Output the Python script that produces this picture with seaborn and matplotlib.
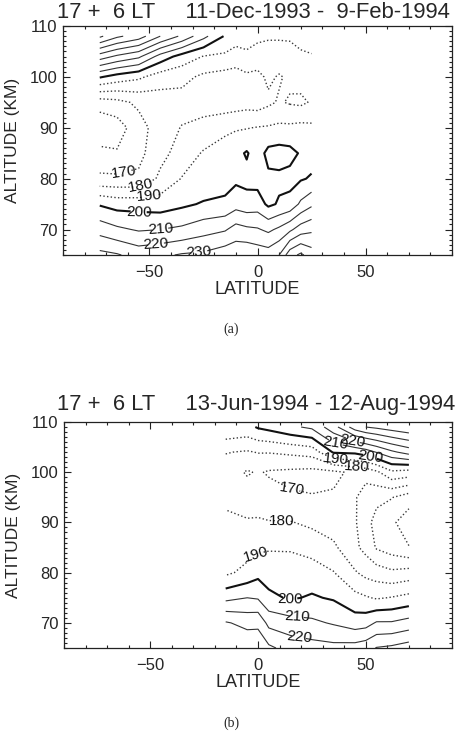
"""
Zonal mean temperature contours (K) against latitude and altitude
for two 17 + 6 LT observation windows.
"""

import matplotlib
matplotlib.use("Agg")
import matplotlib.pyplot as plt
from matplotlib.ticker import MultipleLocator
import seaborn as sns

sns.set_theme(style="ticks")
plt.rcParams["font.family"] = ["Liberation Sans", "DejaVu Sans"]

# panel (a): 11-Dec-1993 - 9-Feb-1994
lat_a = [-73, -65, -55, -45, -35, -25, -15, -10, -5, 0, 5, 10, 15, 20, 25]
alt_a = [65, 70, 75, 80, 85, 90, 95, 100, 104, 108]
# temperature (K), one row per altitude, one column per latitude
temp_a = [
    [233, 231, 226, 228, 231, 232, 236, 237, 238, 236, 235, 240, 256, 262, 255],
    [216, 212, 209, 210, 212, 216, 219, 224, 222, 221, 218, 222, 228, 235, 238],
    [199, 196, 196, 195, 198, 201, 202, 206, 204, 205, 198, 201, 203, 212, 218],
    [172, 172, 172, 182, 190.5, 193, 196, 198, 197, 196, 198, 198, 197, 199, 201],
    [163, 161, 167, 177, 184, 191, 194, 197, 201, 195, 203, 204, 203, 199, 196],
    [152, 155, 166, 175, 180.5, 183, 188, 189, 189.5, 190.5, 191, 192, 192, 193, 192],
    [165, 167, 172, 175, 176, 176, 174, 175, 176, 175, 178, 181, 179, 178, 181],
    [201, 196, 192, 185, 183, 178, 176, 175, 178, 177, 182, 179, 182, 184, 186],
    [235, 228, 222, 206, 196, 189.5, 188, 186, 188, 186, 188, 186, 187, 189, 189.5],
    [272, 262, 255, 240, 228, 213, 199, 194, 194, 192, 190.5, 191, 191, 192, 193],
]

# panel (b): 13-Jun-1994 - 12-Aug-1994
lat_b = [-15, -5, 0, 5, 15, 25, 35, 45, 50, 55, 62, 70]
alt_b = [65, 70, 75, 80, 85, 90, 95, 100, 104, 109]
temp_b = [
    [237, 238, 236, 232, 226, 224, 223, 224, 226, 230.5, 232, 235],
    [231, 227, 228, 217, 214, 212, 209, 205, 206, 211, 211, 214],
    [207, 210, 209, 202, 199, 201, 199, 193, 191, 189, 190.5, 193],
    [188, 193, 197, 196, 195, 195, 190.5, 181, 177, 175, 172, 174],
    [185, 186, 188, 189, 189, 186, 182, 172, 167, 159, 155, 150.5],
    [182, 181, 181, 180.5, 180.5, 178, 175, 171, 164, 156, 152, 144],
    [178, 175, 176, 174, 171, 170.5, 171, 171, 165, 163, 160.5, 155],
    [175, 169, 171, 169, 168, 167, 168, 172, 174, 178, 188, 186],
    [180.5, 179, 180.5, 180.5, 182, 184, 201, 202, 205, 210.5, 218, 224],
    [199, 197, 201, 203, 208, 212, 226, 245, 250, 252, 255, 258],
]

titles = ["17 +  6 LT     11-Dec-1993 -  9-Feb-1994",
          "17 +  6 LT     13-Jun-1994 - 12-Aug-1994"]
captions = ["(a)", "(b)"]

cold_levels = [140, 150, 160, 170, 180, 190]
warm_levels = [210, 220, 230, 240, 250, 260, 270, 280]

# label spots (lat, alt) for the inline contour labels
labels_a = {
    "cold": [(-62, 81.0), (-54, 79.0), (-50, 76.4)],
    "mid": [(-55, 72.8)],
    "warm": [(-45, 70.0), (-47, 67.2), (-27, 65.8)],
}
labels_b = {
    "cold": [(-1, 83.5), (11, 90.0), (16, 96.5), (36, 102.8), (46, 101.3)],
    "mid": [(15, 74.5), (52, 103.2)],
    "warm": [(18, 71.2), (19, 67.2), (36, 105.4), (44, 106.2)],
}


def draw_panel(ax, lat, alt, temp, spots):
    """ Draws dotted contours below 200 K, a thick 200 K contour and
    thin solid contours above it, then adds the inline labels.
    """
    cold = ax.contour(lat, alt, temp, levels=cold_levels, colors="#3a3a3a",
                      linestyles=":", linewidths=1.0)
    mid = ax.contour(lat, alt, temp, levels=[200], colors="#111111",
                     linestyles="-", linewidths=1.5)
    warm = ax.contour(lat, alt, temp, levels=warm_levels, colors="#333333",
                      linestyles="-", linewidths=0.8)
    for cs, key in [(cold, "cold"), (mid, "mid"), (warm, "warm")]:
        ax.clabel(cs, fmt="%d", fontsize=11, colors="#111111", inline=True,
                  inline_spacing=2, manual=spots[key])


def axis_setup(ax):
    """ Sets limits, ticks and labels shared by both panels. """
    ax.set_xlim(-90, 90)
    ax.set_ylim(65, 110)
    ax.set_xticks([-50, 0, 50])
    ax.set_yticks([70, 80, 90, 100, 110])
    ax.xaxis.set_minor_locator(MultipleLocator(10))
    ax.yaxis.set_minor_locator(MultipleLocator(1))
    ax.tick_params(which="both", direction="in", top=True, right=True,
                   color="#222222", width=0.8)
    ax.tick_params(which="major", length=5, labelsize=12)
    ax.tick_params(which="minor", length=2.5)
    ax.tick_params(axis="x", pad=7)
    ax.tick_params(axis="y", pad=4)
    for spine in ax.spines.values():
        spine.set_color("#222222")
        spine.set_linewidth(0.9)
    ax.set_xlabel("LATITUDE", fontsize=13, labelpad=1)
    ax.set_ylabel("ALTITUDE (KM)", fontsize=12.5, labelpad=7)


fig = plt.figure(figsize=(4.65, 7.45), dpi=100)
ax_a = fig.add_axes([63 / 465, 1 - 255 / 745, 389 / 465, 229 / 745])
ax_b = fig.add_axes([64 / 465, 1 - 648 / 745, 388 / 465, 226 / 745])

draw_panel(ax_a, lat_a, alt_a, temp_a, labels_a)
draw_panel(ax_b, lat_b, alt_b, temp_b, labels_b)

for ax in [ax_a, ax_b]:
    axis_setup(ax)

fig.text(57 / 465, 1 - 18 / 745, titles[0], fontsize=15.8, ha="left",
         va="baseline")
fig.text(57 / 465, 1 - 410 / 745, titles[1], fontsize=15.8, ha="left",
         va="baseline")
fig.text(231 / 465, 1 - 329 / 745, captions[0], fontsize=10, ha="center",
         va="center", family="Liberation Serif")
fig.text(231 / 465, 1 - 723 / 745, captions[1], fontsize=10, ha="center",
         va="center", family="Liberation Serif")

plt.savefig("out.png", dpi=100)
